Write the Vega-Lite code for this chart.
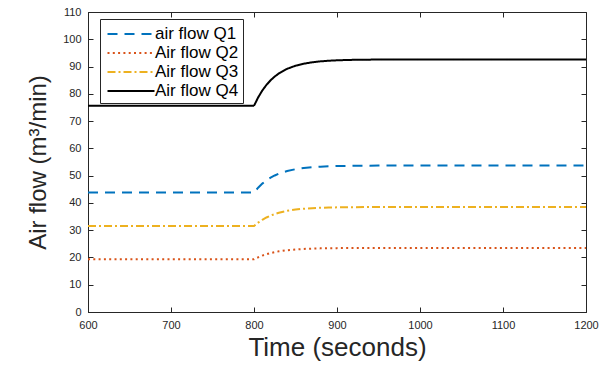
{
  "$schema": "https://vega.github.io/schema/vega-lite/v6.json",
  "width": 498,
  "height": 300,
  "autosize": "none",
  "padding": {"left": 88, "top": 12, "right": 25, "bottom": 55},
  "background": "white",
  "config": {
    "font": "Liberation Sans",
    "view": {"stroke": "#262626", "strokeWidth": 1},
    "axis": {
      "domainColor": "#262626",
      "tickColor": "#262626",
      "labelColor": "#262626",
      "titleColor": "#262626",
      "labelFont": "Liberation Sans",
      "titleFont": "Liberation Sans",
      "labelFontSize": 11,
      "titleFontWeight": "normal",
      "grid": false,
      "tickSize": -5,
      "labelPadding": 12,
      "labelFlush": false
    }
  },
  "data": {
    "values": [
      {"t": 600, "v": 43.8, "s": "air flow Q1"},
      {"t": 800, "v": 43.8, "s": "air flow Q1"},
      {"t": 805, "v": 45.59, "s": "air flow Q1"},
      {"t": 810, "v": 47.07, "s": "air flow Q1"},
      {"t": 815, "v": 48.26, "s": "air flow Q1"},
      {"t": 820, "v": 49.25, "s": "air flow Q1"},
      {"t": 825, "v": 50.06, "s": "air flow Q1"},
      {"t": 830, "v": 50.72, "s": "air flow Q1"},
      {"t": 840, "v": 51.7, "s": "air flow Q1"},
      {"t": 850, "v": 52.36, "s": "air flow Q1"},
      {"t": 860, "v": 52.8, "s": "air flow Q1"},
      {"t": 870, "v": 53.1, "s": "air flow Q1"},
      {"t": 880, "v": 53.29, "s": "air flow Q1"},
      {"t": 890, "v": 53.43, "s": "air flow Q1"},
      {"t": 900, "v": 53.52, "s": "air flow Q1"},
      {"t": 920, "v": 53.62, "s": "air flow Q1"},
      {"t": 950, "v": 53.68, "s": "air flow Q1"},
      {"t": 1000, "v": 53.7, "s": "air flow Q1"},
      {"t": 1200, "v": 53.7, "s": "air flow Q1"},
      {"t": 600, "v": 19.3, "s": "Air flow Q2"},
      {"t": 800, "v": 19.3, "s": "Air flow Q2"},
      {"t": 805, "v": 20.06, "s": "Air flow Q2"},
      {"t": 810, "v": 20.69, "s": "Air flow Q2"},
      {"t": 815, "v": 21.19, "s": "Air flow Q2"},
      {"t": 820, "v": 21.61, "s": "Air flow Q2"},
      {"t": 825, "v": 21.95, "s": "Air flow Q2"},
      {"t": 830, "v": 22.24, "s": "Air flow Q2"},
      {"t": 840, "v": 22.65, "s": "Air flow Q2"},
      {"t": 850, "v": 22.93, "s": "Air flow Q2"},
      {"t": 860, "v": 23.12, "s": "Air flow Q2"},
      {"t": 870, "v": 23.24, "s": "Air flow Q2"},
      {"t": 880, "v": 23.33, "s": "Air flow Q2"},
      {"t": 890, "v": 23.39, "s": "Air flow Q2"},
      {"t": 900, "v": 23.42, "s": "Air flow Q2"},
      {"t": 920, "v": 23.47, "s": "Air flow Q2"},
      {"t": 950, "v": 23.49, "s": "Air flow Q2"},
      {"t": 1000, "v": 23.5, "s": "Air flow Q2"},
      {"t": 1200, "v": 23.5, "s": "Air flow Q2"},
      {"t": 600, "v": 31.5, "s": "Air flow Q3"},
      {"t": 800, "v": 31.5, "s": "Air flow Q3"},
      {"t": 805, "v": 32.77, "s": "Air flow Q3"},
      {"t": 810, "v": 33.81, "s": "Air flow Q3"},
      {"t": 815, "v": 34.66, "s": "Air flow Q3"},
      {"t": 820, "v": 35.36, "s": "Air flow Q3"},
      {"t": 825, "v": 35.92, "s": "Air flow Q3"},
      {"t": 830, "v": 36.39, "s": "Air flow Q3"},
      {"t": 840, "v": 37.09, "s": "Air flow Q3"},
      {"t": 850, "v": 37.56, "s": "Air flow Q3"},
      {"t": 860, "v": 37.86, "s": "Air flow Q3"},
      {"t": 870, "v": 38.07, "s": "Air flow Q3"},
      {"t": 880, "v": 38.21, "s": "Air flow Q3"},
      {"t": 890, "v": 38.31, "s": "Air flow Q3"},
      {"t": 900, "v": 38.37, "s": "Air flow Q3"},
      {"t": 920, "v": 38.44, "s": "Air flow Q3"},
      {"t": 950, "v": 38.49, "s": "Air flow Q3"},
      {"t": 1000, "v": 38.5, "s": "Air flow Q3"},
      {"t": 1200, "v": 38.5, "s": "Air flow Q3"},
      {"t": 600, "v": 75.6, "s": "Air flow Q4"},
      {"t": 800, "v": 75.6, "s": "Air flow Q4"},
      {"t": 805, "v": 78.68, "s": "Air flow Q4"},
      {"t": 810, "v": 81.21, "s": "Air flow Q4"},
      {"t": 815, "v": 83.27, "s": "Air flow Q4"},
      {"t": 820, "v": 84.97, "s": "Air flow Q4"},
      {"t": 825, "v": 86.34, "s": "Air flow Q4"},
      {"t": 830, "v": 87.48, "s": "Air flow Q4"},
      {"t": 840, "v": 89.17, "s": "Air flow Q4"},
      {"t": 850, "v": 90.31, "s": "Air flow Q4"},
      {"t": 860, "v": 91.05, "s": "Air flow Q4"},
      {"t": 870, "v": 91.56, "s": "Air flow Q4"},
      {"t": 880, "v": 91.9, "s": "Air flow Q4"},
      {"t": 890, "v": 92.14, "s": "Air flow Q4"},
      {"t": 900, "v": 92.29, "s": "Air flow Q4"},
      {"t": 920, "v": 92.46, "s": "Air flow Q4"},
      {"t": 950, "v": 92.57, "s": "Air flow Q4"},
      {"t": 1000, "v": 92.6, "s": "Air flow Q4"},
      {"t": 1200, "v": 92.6, "s": "Air flow Q4"}
    ]
  },
  "layer": [
    {
      "mark": {"type": "line", "strokeWidth": 2},
      "encoding": {
        "x": {
          "field": "t", "type": "quantitative",
          "scale": {"domain": [600, 1200], "nice": false, "zero": false},
          "axis": {"values": [600, 700, 800, 900, 1000, 1100, 1200], "format": "d", "title": "Time (seconds)", "titleFontSize": 26, "titleY": 43, "titleBaseline": "alphabetic", "labelPadding": 12}
        },
        "y": {
          "field": "v", "type": "quantitative",
          "scale": {"domain": [0, 110], "nice": false},
          "axis": {"values": [0, 10, 20, 30, 40, 50, 60, 70, 80, 90, 100, 110], "format": "d", "title": "Air flow (m³/min)", "titleFontSize": 24, "titleX": -43, "titleY": 150, "titleAngle": -90, "titleAlign": "center", "titleBaseline": "alphabetic"}
        },
        "color": {
          "field": "s", "type": "nominal",
          "scale": {"domain": ["air flow Q1", "Air flow Q2", "Air flow Q3", "Air flow Q4"], "range": ["#0072BD", "#D95319", "#EDB120", "#000000"]},
          "legend": {
            "title": null, "orient": "none", "legendX": 12, "legendY": 7,
            "labelFontSize": 17, "labelColor": "#000000", "labelFont": "Liberation Sans",
            "symbolType": "M-2.35,0H2.35", "symbolSize": 400, "symbolStrokeWidth": 2, "symbolFillColor": "transparent", "symbolOffset": 16,
            "strokeColor": "#262626", "fillColor": "white", "padding": 4, "rowPadding": -2, "labelOffset": 13
          }
        },
        "strokeDash": {
          "field": "s", "type": "nominal",
          "scale": {"domain": ["air flow Q1", "Air flow Q2", "Air flow Q3", "Air flow Q4"], "range": [[10, 7], [2, 3.3], [8, 3, 2, 3], [1, 0]]},
          "legend": {
            "title": null, "orient": "none", "legendX": 12, "legendY": 7,
            "labelFontSize": 17, "labelColor": "#000000", "labelFont": "Liberation Sans",
            "symbolType": "M-2.35,0H2.35", "symbolSize": 400, "symbolStrokeWidth": 2, "symbolFillColor": "transparent", "symbolOffset": 16,
            "strokeColor": "#262626", "fillColor": "white", "padding": 4, "rowPadding": -2, "labelOffset": 13
          }
        }
      }
    },
    {
      "mark": {"type": "line", "opacity": 0},
      "encoding": {
        "x": {"field": "t", "type": "quantitative", "axis": {"orient": "top", "values": [600, 700, 800, 900, 1000, 1100, 1200], "labels": false, "title": null, "domain": false}},
        "y": {"field": "v", "type": "quantitative", "axis": {"orient": "right", "values": [0, 10, 20, 30, 40, 50, 60, 70, 80, 90, 100, 110], "labels": false, "title": null, "domain": false}},
        "detail": {"field": "s"}
      }
    }
  ],
  "resolve": {"axis": {"x": "independent", "y": "independent"}}
}
